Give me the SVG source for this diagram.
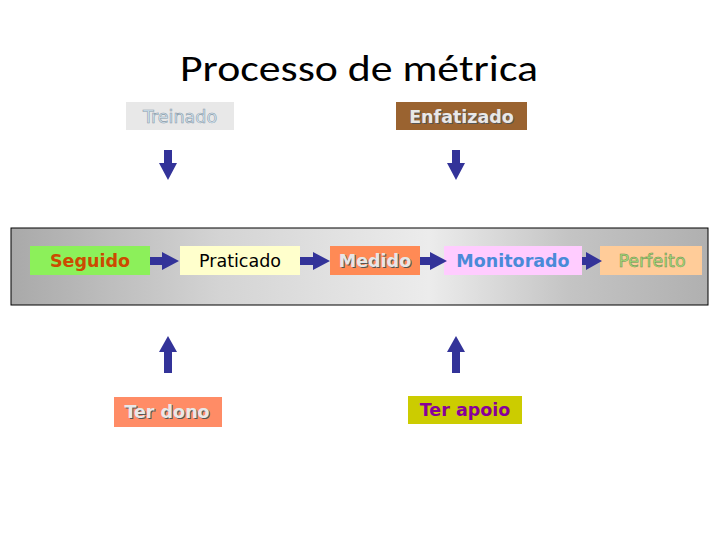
<svg xmlns="http://www.w3.org/2000/svg" width="720" height="540" viewBox="0 0 720 540">
<defs>
<linearGradient id="band" x1="0" y1="0" x2="1" y2="0">
<stop offset="0" stop-color="#a9a9a9"/>
<stop offset="0.3" stop-color="#d4d4d4"/>
<stop offset="0.6" stop-color="#ececec"/>
<stop offset="0.8" stop-color="#c4c4c4"/>
<stop offset="1" stop-color="#b0b0b0"/>
</linearGradient>
</defs>
<style>
.t{font-family:"DejaVu Sans",Verdana,sans-serif;font-size:17.5px;text-anchor:middle;dominant-baseline:central}
.b{font-weight:bold}
.sh{fill:#555555}
.arr{fill:#333399}
</style>
<rect width="720" height="540" fill="#ffffff"/>
<text x="359" y="81" font-family="Carlito,'Open Sans','Noto Sans',sans-serif" font-size="37" text-anchor="middle" fill="#000" textLength="358" lengthAdjust="spacingAndGlyphs">Processo de métrica</text>

<rect x="11" y="228" width="697" height="77" fill="url(#band)" stroke="#000" stroke-width="1"/>

<g id="treinado">
<rect x="126" y="102" width="108" height="28" fill="#e8e8e8"/>
<text class="t" x="180" y="117" fill="#d8ecf8" stroke="#8a9aa8" stroke-width="0.6">Treinado</text>
</g>
<g id="enfatizado">
<rect x="396" y="102" width="131" height="28" fill="#9a6330"/>
<text class="t b sh" x="462.5" y="117.5">Enfatizado</text>
<text class="t b" x="461.5" y="116.5" fill="#e8e8e8">Enfatizado</text>
</g>
<g id="seguido">
<rect x="30" y="246" width="120" height="29" fill="#8cf05a"/>
<text class="t b" x="90" y="261" fill="#cc4a00">Seguido</text>
</g>
<g id="praticado">
<rect x="180" y="246" width="120" height="29" fill="#ffffcc"/>
<text class="t" x="240" y="261" fill="#000">Praticado</text>
</g>
<g id="medido">
<rect x="330" y="246" width="90" height="29" fill="#ff8a55"/>
<text class="t b sh" x="376" y="262">Medido</text>
<text class="t b" x="375" y="261" fill="#e6e6e6">Medido</text>
</g>
<g id="monitorado">
<rect x="444" y="246" width="138" height="29" fill="#ffccff"/>
<text class="t b" x="513" y="261" fill="#4a8ad8">Monitorado</text>
</g>
<g id="perfeito">
<rect x="600" y="246" width="102" height="29" fill="#ffcc99"/>
<text class="t" x="652" y="261" fill="#a6e07a" stroke="#6a8a50" stroke-width="0.5">Perfeito</text>
</g>
<g id="terdono">
<rect x="114" y="397" width="108" height="30" fill="#ff8c66"/>
<text class="t b sh" x="168" y="413">Ter dono</text>
<text class="t b" x="167" y="412" fill="#e8e8e8">Ter dono</text>
</g>
<g id="terapoio">
<rect x="408" y="396" width="114" height="28" fill="#cccc00"/>
<text class="t b" x="465" y="410" fill="#880099">Ter apoio</text>
</g>

<g id="connectors">
<polygon class="arr" points="164,150 172,150 172,163 177,163 168,180 159,163 164,163"/>
<polygon class="arr" points="452,150 460,150 460,163 465,163 456,180 447,163 452,163"/>
<polygon class="arr" points="164,373 172,373 172,352 177,352 168,336 159,352 164,352"/>
<polygon class="arr" points="452,373 460,373 460,352 465,352 456,336 447,352 452,352"/>
<polygon class="arr" points="150,257 162,257 162,252 179,261 162,270 162,265 150,265"/>
<polygon class="arr" points="300,257 313,257 313,252 330,261 313,270 313,265 300,265"/>
<polygon class="arr" points="420,257 430,257 430,252 447,261 430,270 430,265 420,265"/>
<polygon class="arr" points="582,257 586,257 586,252 602,261 586,270 586,265 582,265"/>
</g>
</svg>
